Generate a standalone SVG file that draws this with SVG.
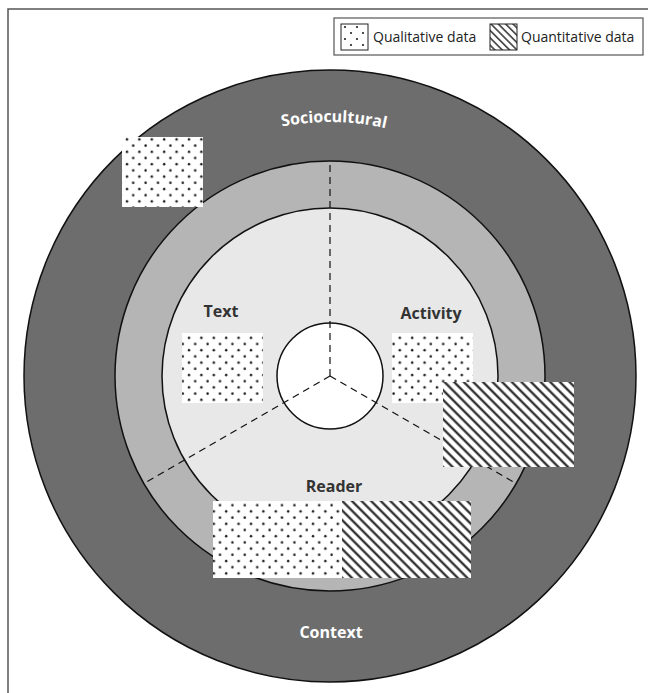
<svg xmlns="http://www.w3.org/2000/svg" width="648" height="693" viewBox="0 0 648 693">
<style>
.lbl{font-family:"Open Sans","Liberation Sans",sans-serif;font-weight:bold;font-size:16px;fill:#333;text-anchor:middle}
.wlbl{font-family:"Open Sans","Liberation Sans",sans-serif;font-weight:bold;font-size:16px;fill:#fff;text-anchor:middle}
.leg{font-family:"Open Sans","Liberation Sans",sans-serif;font-size:14px;fill:#222}
.ring{stroke:#111;stroke-width:1.5}
.dash{stroke:#111;stroke-width:1.2;stroke-dasharray:7 5;fill:none}
.dots{fill:url(#dots)}
.hatch{fill:url(#hatch)}
</style>
<defs>
<pattern id="dots" width="12.4" height="12.4" patternUnits="userSpaceOnUse">
<rect width="12.4" height="12.4" fill="#fff"/>
<circle cx="3" cy="3" r="1.25" fill="#222"/>
<circle cx="9.2" cy="9.2" r="1.25" fill="#222"/>
</pattern>
<pattern id="hatch" width="6.8" height="6.8" patternUnits="userSpaceOnUse" patternTransform="rotate(-45)">
<rect width="6.8" height="6.8" fill="#fff"/>
<line x1="3.4" y1="-1" x2="3.4" y2="8" stroke="#1a1a1a" stroke-width="2.1"/>
</pattern>
<pattern id="ldots" width="12" height="12" patternUnits="userSpaceOnUse" x="341" y="24">
<rect width="12" height="12" fill="#fff"/>
<circle cx="4" cy="3" r="1.1" fill="#222"/>
<circle cx="10" cy="9" r="1.1" fill="#222"/>
</pattern>
<pattern id="lhatch" width="5.2" height="5.2" patternUnits="userSpaceOnUse" patternTransform="rotate(-45)">
<rect width="5.2" height="5.2" fill="#fff"/>
<line x1="2.6" y1="-1" x2="2.6" y2="7" stroke="#222" stroke-width="1.4"/>
</pattern>
<path id="arcTop" d="M 76 376 A 254 254 0 0 1 584 376"/>
</defs>

<rect x="8" y="9" width="700" height="700" fill="#fff" stroke="#555" stroke-width="1.5"/>

<g id="legend">
<rect x="334" y="18" width="309" height="37" fill="#fff" stroke="#555" stroke-width="1.2"/>
<rect x="341" y="24" width="27" height="26" fill="url(#ldots)" stroke="#222" stroke-width="1"/>
<text class="leg" x="373" y="42">Qualitative data</text>
<rect x="490" y="24" width="27" height="26" fill="url(#lhatch)" stroke="#222" stroke-width="1"/>
<text class="leg" x="521" y="42">Quantitative data</text>
</g>

<g id="context">
<circle class="ring" cx="330" cy="376" r="306" fill="#6d6d6d"/>
<text class="wlbl" font-size="15"><textPath href="#arcTop" startOffset="50.5%">Sociocultural</textPath></text>
<text class="wlbl" x="331" y="638">Context</text>
</g>

<g id="middle">
<circle class="ring" cx="330" cy="376" r="215" fill="#b4b5b4"/>
</g>

<g id="inner">
<circle class="ring" cx="330" cy="376" r="168" fill="#e8e8e8"/>
</g>

<g id="center">
<circle class="ring" cx="330" cy="376" r="53" fill="#fff"/>
</g>

<g id="connectors">
<line class="dash" x1="330" y1="376" x2="330" y2="161"/>
<line class="dash" x1="330" y1="376" x2="144" y2="483.5"/>
<line class="dash" x1="330" y1="376" x2="516" y2="483.5"/>
</g>

<g id="text">
<text class="lbl" x="221" y="317">Text</text>
<rect class="dots" x="182" y="333" width="81" height="70"/>
</g>

<g id="activity">
<text class="lbl" x="431" y="319">Activity</text>
<rect class="dots" x="392" y="333" width="81" height="70"/>
<rect class="hatch" x="443" y="382" width="131" height="85"/>
</g>

<g id="reader">
<text class="lbl" x="334" y="492">Reader</text>
<rect class="dots" x="213" y="501" width="129" height="77"/>
<rect class="hatch" x="342" y="501" width="129" height="77"/>
</g>

<g id="sociocultural-data">
<rect class="dots" x="122" y="137" width="81" height="70"/>
</g>
</svg>
